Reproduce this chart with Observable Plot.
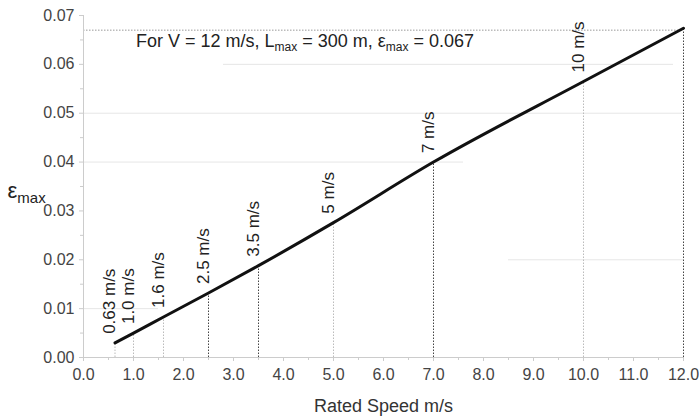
<!DOCTYPE html>
<html>
<head>
<meta charset="utf-8">
<script src="https://cdn.jsdelivr.net/npm/d3@7"></script>
<script src="https://cdn.jsdelivr.net/npm/@observablehq/plot@0.6"></script>
<style>
  html, body { margin: 0; padding: 0; background: #fff; }
  svg { font-family: "Liberation Sans", Arial, sans-serif; }
</style>
</head>
<body>
<div id="chart"></div>
<script>
const speeds = [0.63, 1.0, 1.6, 2.5, 3.5, 5, 7, 10, 12];
const epsMax = [0.0030, 0.0050, 0.0083, 0.0132, 0.0188, 0.0276, 0.0400, 0.0565, 0.0674];
const speedLabels = ["0.63 m/s", "1.0 m/s", "1.6 m/s", "2.5 m/s", "3.5 m/s", "5 m/s", "7 m/s", "10 m/s", ""];
const darkGuide = [false, false, false, true, true, false, true, false, true];
const xTicks = [0,1,2,3,4,5,6,7,8,9,10,11,12];
const yTicks = [0, 0.01, 0.02, 0.03, 0.04, 0.05, 0.06, 0.07];
const yMinor = [0.005, 0.015, 0.025, 0.035, 0.045, 0.055, 0.065];
const xMinor = [0.5,1.5,2.5,3.5,4.5,5.5,6.5,7.5,8.5,9.5,10.5,11.5];
const gridY = [0.01, 0.02, 0.04, 0.05, 0.06];
const gridFrom = [0, 8.5, 0, 0, 2.8];
const gridTo = [1.5, 12, 7.6, 12, 11.8];
const refEps = 0.067;
const annotation = "For V = 12 m/s, Lmax = 300 m, εmax = 0.067";
const yLabel = "εmax";
const xLabel = "Rated Speed m/s";

const data = speeds.map((s, i) => ({ s, e: epsMax[i], label: speedLabels[i], dark: darkGuide[i] }));
const grid = gridY.map((y, i) => ({ y, x1: gridFrom[i], x2: gridTo[i] }));

const chart = Plot.plot({
  width: 699,
  height: 416,
  marginLeft: 83,
  marginRight: 16,
  marginTop: 15,
  marginBottom: 59,
  style: { fontFamily: "'Liberation Sans', Arial, sans-serif", color: "#333", background: "#fff" },
  x: { type: "linear", domain: [0, 12] },
  y: { type: "linear", domain: [0, 0.07] },
  marks: [
    Plot.ruleY(grid, { y: "y", x1: "x1", x2: "x2", stroke: "#e6e6e6", strokeWidth: 1 }),
    Plot.ruleY([refEps], { x1: 0, x2: 12, stroke: "#999", strokeWidth: 1, strokeDasharray: "1.5,1.5" }),
    Plot.ruleX(data, { x: "s", y1: 0, y2: "e", stroke: d => d.dark ? "#444" : "#bbb", strokeWidth: 1, strokeDasharray: "1.5,1.5" }),
    Plot.ruleX([0], { stroke: "#ccc" }),
    Plot.ruleY([0], { stroke: "#ccc" }),
    Plot.axisX({ ticks: xTicks, tickFormat: d3.format(".1f"), tickSize: 4, tickPadding: 7, stroke: "#ccc", fontSize: 16, fill: "#444", label: null }),
    Plot.axisX({ ticks: xMinor, tickFormat: () => "", tickSize: 3, stroke: "#ccc", label: null }),
    Plot.axisY({ ticks: yTicks, tickFormat: d3.format(".2f"), tickSize: 4, tickPadding: 5, stroke: "#ccc", fontSize: 16, fill: "#444", label: null }),
    Plot.axisY({ ticks: yMinor, tickFormat: () => "", tickSize: 3, stroke: "#ccc", label: null }),
    Plot.line(data, { x: "s", y: "e", stroke: "#111", strokeWidth: 3, curve: "monotone-x" }),
    Plot.text(data.filter(d => d.label), { x: "s", y: "e", text: "label", rotate: -90, textAnchor: "start", lineAnchor: "bottom", dx: 0, dy: -9, fontSize: 17, fill: "#222" }),
    Plot.text([annotation], { x: 1.05, y: 0.0648, text: d => d, textAnchor: "start", fontSize: 18, fill: "#222" }),
    Plot.text([yLabel], { x: 0, y: 0.034, text: d => d, textAnchor: "start", dx: -76, fontSize: 22, fill: "#222" }),
    Plot.text([xLabel], { x: 6, y: 0, text: d => d, dy: 49, fontSize: 18, fill: "#333" })
  ]
});

function subify(el, parts, subSize, shift) {
  const t = d3.select(el);
  t.text(null);
  let down = false;
  for (const p of parts) {
    const s = t.append("tspan").text(p.t);
    if (p.sub) {
      s.attr("font-size", subSize).attr("dy", shift);
      down = true;
    } else if (down) {
      s.attr("dy", -shift);
      down = false;
    }
  }
}

document.getElementById("chart").appendChild(chart);
const svg = d3.select(chart);
svg.selectAll("text").each(function() {
  const txt = this.textContent;
  if (txt === annotation) {
    subify(this, [
      { t: "For V = 12 m/s, L" }, { t: "max", sub: true },
      { t: " = 300 m, ε" }, { t: "max", sub: true }, { t: " = 0.067" }
    ], 12, 4);
  } else if (txt === yLabel) {
    subify(this, [{ t: "ε" }, { t: "max", sub: true }], 15, 5);
  }
});
</script>
</body>
</html>
